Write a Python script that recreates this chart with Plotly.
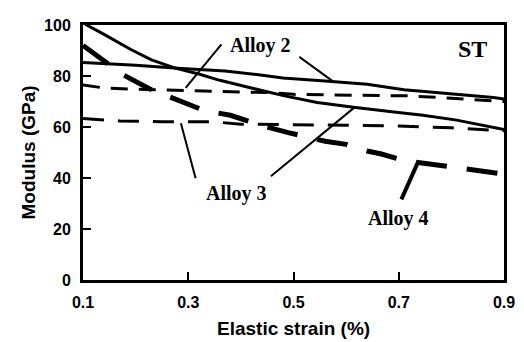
import plotly.graph_objects as go

# ---- data ----
strain_a2_solid = [0.1, 0.2, 0.28, 0.37, 0.43, 0.48, 0.56, 0.64, 0.71, 0.81, 0.88, 0.9]
mod_a2_solid = [85.3, 84.2, 83.0, 82.0, 80.6, 79.2, 78.0, 76.8, 74.6, 73.0, 71.6, 71.0]

strain_a2_dash = [0.1, 0.14, 0.2, 0.37, 0.45, 0.5, 0.65, 0.72, 0.8, 0.86, 0.9]
mod_a2_dash = [76.5, 75.3, 74.8, 74.1, 73.5, 72.8, 72.5, 72.2, 71.3, 70.6, 70.0]

strain_a3_solid = [0.1, 0.107, 0.14, 0.19, 0.23, 0.277, 0.32, 0.36, 0.42, 0.483, 0.545,
                   0.614, 0.695, 0.746, 0.81, 0.86, 0.9]
mod_a3_solid = [101, 100, 96.3, 90.5, 86.3, 83.0, 80.8, 78.3, 75.3, 72.2, 69.6,
                67.7, 65.8, 64.6, 62.7, 60.5, 59.0]

strain_a3_dash = [0.1, 0.17, 0.25, 0.35, 0.4, 0.5, 0.6, 0.7, 0.8, 0.9]
mod_a3_dash = [63.3, 62.4, 62.1, 62.0, 61.1, 61.0, 60.7, 60.4, 59.7, 58.5]

strain_a4 = [0.1, 0.145, 0.175, 0.226, 0.263, 0.33, 0.38, 0.44, 0.49, 0.56, 0.6,
             0.64, 0.667, 0.71, 0.78, 0.83, 0.89, 0.9]
mod_a4 = [92.0, 85.5, 80.6, 75.0, 72.0, 66.5, 64.6, 60.5, 57.8, 54.4, 53.2,
          50.6, 49.4, 46.8, 44.9, 43.7, 41.8, 41.5]

x_ticks = [0.1, 0.3, 0.5, 0.7, 0.9]
x_tick_labels = ["0.1", "0.3", "0.5", "0.7", "0.9"]
y_ticks = [0, 20, 40, 60, 80, 100]

# labels: text, x, y
labels = [("Alloy 2", 0.438, 92.0), ("Alloy 3", 0.391, 33.8),
          ("Alloy 4", 0.699, 24.0), ("ST", 0.84, 90.5)]
# leader lines: x0, y0, x1, y1, width
leaders = [(0.363, 92.4, 0.295, 75.3, 2),
           (0.511, 87.5, 0.577, 77.6, 2),
           (0.314, 39.9, 0.286, 61.5, 2),
           (0.457, 40.7, 0.616, 67.7, 2),
           (0.705, 31.6, 0.737, 46.4, 4)]

fig = go.Figure()
fig.add_trace(go.Scatter(x=strain_a2_solid, y=mod_a2_solid, mode="lines",
                         line=dict(color="black", width=3)))
fig.add_trace(go.Scatter(x=strain_a3_solid, y=mod_a3_solid, mode="lines",
                         line=dict(color="black", width=3)))
fig.add_trace(go.Scatter(x=strain_a2_dash, y=mod_a2_dash, mode="lines",
                         line=dict(color="black", width=3, dash="17px,11px")))
fig.add_trace(go.Scatter(x=strain_a3_dash, y=mod_a3_dash, mode="lines",
                         line=dict(color="black", width=3, dash="21px,14px")))
fig.add_trace(go.Scatter(x=strain_a4, y=mod_a4, mode="lines",
                         line=dict(color="black", width=5, dash="31px,20px")))

for (x0, y0, x1, y1, w) in leaders:
    fig.add_shape(type="line", xref="x", yref="y", x0=x0, y0=y0, x1=x1, y1=y1,
                  line=dict(color="black", width=w))

for (t, x, y) in labels:
    fig.add_annotation(x=x, y=y, xref="x", yref="y", text=t, showarrow=False,
                       font=dict(family="Liberation Serif", size=24 if t == "ST" else 20,
                                 color="black", weight="bold"))

fig.add_annotation(xref="paper", yref="paper", x=0, y=0.5, xshift=-55,
                   xanchor="center", yanchor="middle",
                   text="Modulus (GPa)", textangle=-90, showarrow=False,
                   font=dict(family="Liberation Sans", size=19, color="black", weight="bold"))
fig.add_annotation(xref="paper", yref="paper", x=0.5, y=0, yshift=-48,
                   xanchor="center", yanchor="middle",
                   text="Elastic strain (%)", showarrow=False,
                   font=dict(family="Liberation Sans", size=19, color="black", weight="bold"))

fig.update_xaxes(range=[0.1, 0.9], tickvals=x_ticks, ticktext=x_tick_labels,
                 ticks="inside", ticklen=8, tickwidth=1.5, tickcolor="black",
                 showline=True, linewidth=3, linecolor="black", mirror=True,
                 showgrid=False, zeroline=False, ticklabelstandoff=6,
                 tickfont=dict(family="Liberation Sans", size=16, color="black", weight="bold"))
fig.update_yaxes(range=[0, 100], tickvals=y_ticks,
                 ticks="inside", ticklen=8, tickwidth=1.5, tickcolor="black",
                 showline=True, linewidth=3, linecolor="black", mirror=True,
                 showgrid=False, zeroline=False, ticklabelstandoff=6,
                 tickfont=dict(family="Liberation Sans", size=16, color="black", weight="bold"))

# page body has an 8px margin; size the figure so the plot area lands where the reference has it
fig.update_layout(width=516, height=334, showlegend=False,
                  margin=dict(l=75, r=15, t=9, b=62),
                  plot_bgcolor="white", paper_bgcolor="white")

fig.write_html("out.html")
